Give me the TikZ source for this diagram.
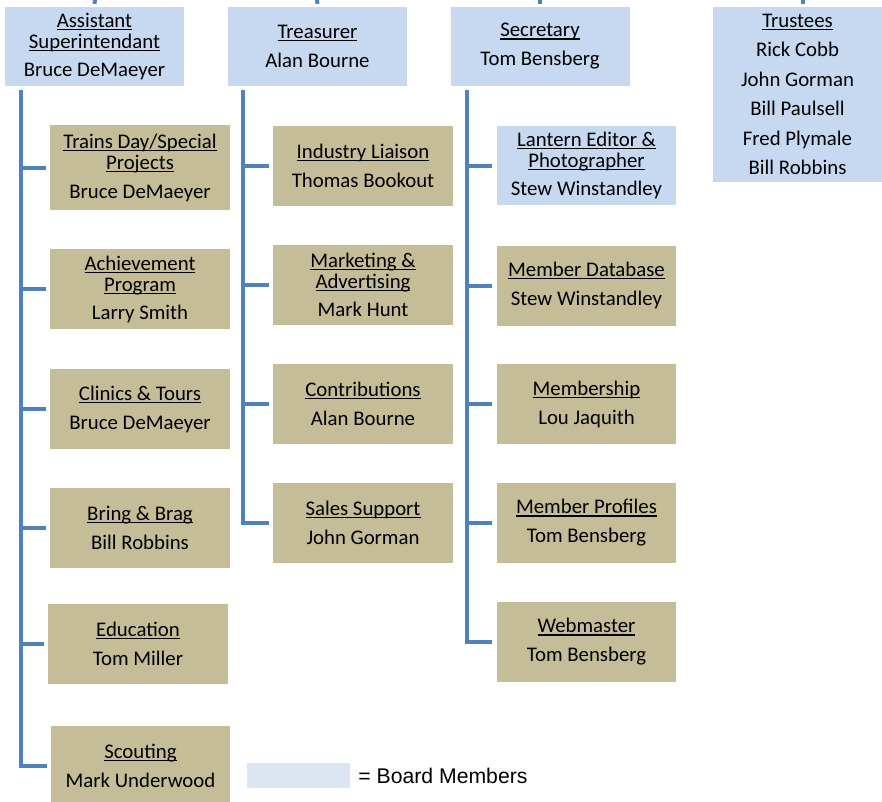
\documentclass[tikz,border=0pt]{standalone}
\usepackage{fontspec}
\setmainfont{Carlito}
\newfontfamily\legendfont{Liberation Sans}
\usetikzlibrary{positioning}
\definecolor{boardBlue}{HTML}{C6D9F1}
\definecolor{legendBlue}{HTML}{DCE6F2}
\definecolor{chairTan}{HTML}{C4BD97}
\definecolor{linkBlue}{HTML}{4F81BD}
\newcommand{\utitle}[1]{\setbox0\hbox{#1}\rlap{\rule[-2.6pt]{\wd0}{1.1pt}}\box0}

\begin{document}
\begin{tikzpicture}[x=1pt,y=-1pt]
	\tikzstyle{unit}=[rectangle,inner sep=0pt,align=center,text=black,font=\fontsize{20.8}{21}\selectfont]
	\tikzstyle{board}=[unit,fill=boardBlue,minimum width=179pt,minimum height=79pt]
	\tikzstyle{chair}=[unit,fill=chairTan,minimum width=180pt,minimum height=80pt]
	\tikzstyle{link}=[draw=linkBlue,line width=4pt]
	\tikzstyle{branch}=[link,shorten >=4pt]

	\useasboundingbox (0,0) rectangle (882,801);

	%officers
	\node[board] (asst) at (94.5,46.5) {\utitle{Assistant}\\\utitle{Superintendant}\\[7pt]Bruce DeMaeyer};
	\node[board] (treas) at (317.5,46.5) {\utitle{Treasurer}\\[8pt]Alan Bourne};
	\node[board] (secr) at (540,46.5) {\utitle{Secretary}\\[8pt]Tom Bensberg};
	\node[board,minimum width=169pt,minimum height=175pt,font=\fontsize{20.8}{29.5}\selectfont] (trust) at (797.5,94.5)
		{\utitle{Trustees}\\Rick Cobb\\John Gorman\\Bill Paulsell\\Fred Plymale\\Bill Robbins};

	%stubs from above
	\coordinate (asstUp) at (95,-3);
	\coordinate (treasUp) at (317,-3);
	\coordinate (secrUp) at (540,-3);
	\coordinate (trustUp) at (803,-3);
	\draw[link,shorten >=3pt] (asstUp) -- (asst.north);
	\draw[link,shorten >=3pt] (treasUp) -- (treas.north);
	\draw[link,shorten >=3pt] (secrUp) -- (secr.north);
	\draw[link,shorten >=3pt] (trustUp) -- (trustUp |- trust.north);

	%assistant superintendant
	\node[chair,minimum height=85pt] (trains) at (140,167.5) {\utitle{Trains Day/Special}\\\utitle{Projects}\\[8pt]Bruce DeMaeyer};
	\node[chair] (achieve) at (140,289) {\utitle{Achievement}\\\utitle{Program}\\[7pt]Larry Smith};
	\node[chair] (clinics) at (140,409) {\utitle{Clinics \& Tours}\\[8pt]Bruce DeMaeyer};
	\node[chair] (brag) at (140,527.5) {\utitle{Bring \& Brag}\\[8pt]Bill Robbins};
	\node[chair] (edu) at (138,644) {\utitle{Education}\\[8pt]Tom Miller};
	\node[chair,minimum width=179pt] (scout) at (140.5,766) {\utitle{Scouting}\\[8pt]Mark Underwood};
	\coordinate (asstTop) at (21,90);
	\draw[branch] (asstTop) |- (scout.west);
	\foreach \n in {trains,achieve,clinics,brag,edu}
		\draw[branch] (asstTop |- \n.west) -- (\n.west);

	%treasurer
	\node[chair] (liaison) at (363,165.5) {\utitle{Industry Liaison}\\[8pt]Thomas Bookout};
	\node[chair] (market) at (363,284.5) {\utitle{Marketing \&}\\\utitle{Advertising}\\[7pt]Mark Hunt};
	\node[chair] (contrib) at (363,403.5) {\utitle{Contributions}\\[8pt]Alan Bourne};
	\node[chair] (sales) at (363,523) {\utitle{Sales Support}\\[8pt]John Gorman};
	\coordinate (treasTop) at (243,90);
	\draw[branch] (treasTop) |- (sales.west);
	\foreach \n in {liaison,market,contrib}
		\draw[branch] (treasTop |- \n.west) -- (\n.west);

	%secretary
	\node[board] (lantern) at (586.5,165.5) {\utitle{Lantern Editor \&}\\\utitle{Photographer}\\[7pt]Stew Winstandley};
	\node[chair,minimum width=179pt] (database) at (586.5,285.5) {\utitle{Member Database}\\[8pt]Stew Winstandley};
	\node[chair,minimum width=179pt] (members) at (586.5,404) {\utitle{Membership}\\[8pt]Lou Jaquith};
	\node[chair,minimum width=179pt] (profiles) at (586.5,523) {\utitle{Member Profiles}\\[8pt]Tom Bensberg};
	\node[chair,minimum width=179pt] (webmaster) at (586.5,642) {\utitle{Webmaster}\\[8pt]Tom Bensberg};
	\coordinate (secrTop) at (467,90);
	\draw[branch,shorten >=5pt] (secrTop) |- (webmaster.west);
	\foreach \n in {lantern,database,members,profiles}
		\draw[branch,shorten >=5pt] (secrTop |- \n.west) -- (\n.west);

	%legend
	\node[rectangle,fill=legendBlue,minimum width=103pt,minimum height=25pt,inner sep=0pt] (legendKey) at (298.5,775.5) {};
	\node[right=8pt of legendKey,inner sep=0pt,font=\legendfont\fontsize{21.2}{24}\selectfont] (legendText) {= Board Members};

\end{tikzpicture}
\end{document}
